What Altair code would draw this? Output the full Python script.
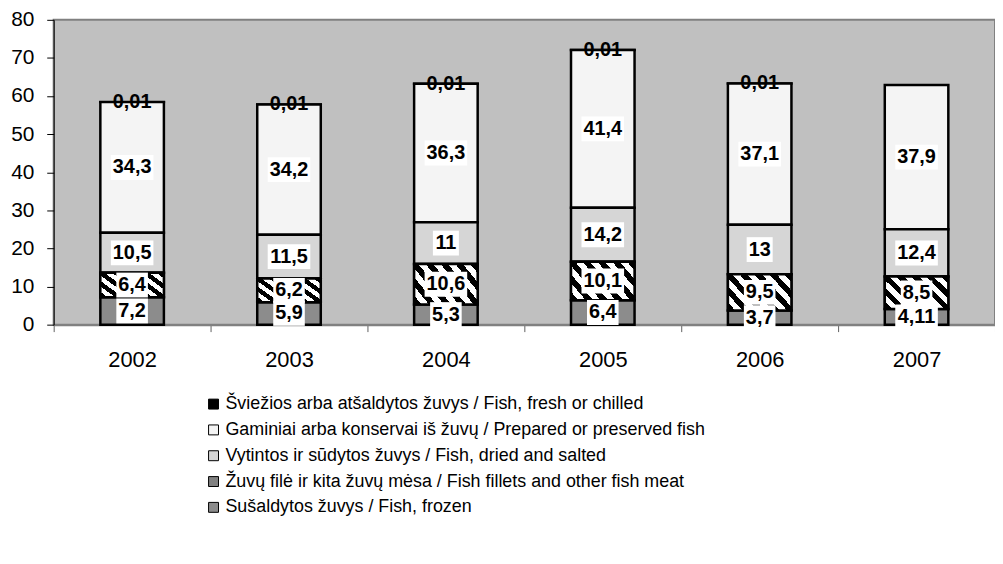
import altair as alt
import pandas as pd

years = ["2002", "2003", "2004", "2005", "2006", "2007"]
categories = [
    "Šviežios arba atšaldytos žuvys / Fish, fresh or chilled",
    "Gaminiai arba konservai iš žuvų / Prepared or preserved fish",
    "Vytintos ir sūdytos žuvys / Fish, dried and salted",
    "Žuvų filė ir kita žuvų mėsa / Fish fillets and other fish meat",
    "Sušaldytos žuvys / Fish, frozen",
]
fresh = [0.01, 0.01, 0.01, 0.01, 0.01, None]
prepared = [34.3, 34.2, 36.3, 41.4, 37.1, 37.9]
dried = [10.5, 11.5, 11, 14.2, 13, 12.4]
fillets = [6.4, 6.2, 10.6, 10.1, 9.5, 8.5]
frozen = [7.2, 5.9, 5.3, 6.4, 3.7, 4.11]
series = [fresh, prepared, dried, fillets, frozen]
colors = ["#000000", "#f4f4f4", "#d6d6d6", "#808080", "#8c8c8c"]

rows = []
for ci, (cat, vals) in enumerate(zip(categories, series)):
    for yr, v in zip(years, vals):
        if v is None:
            continue
        rows.append({"year": yr, "cat": cat, "value": v,
                     "label": str(v).replace(".", ","),
                     "stack_order": len(categories) - 1 - ci})
df = pd.DataFrame(rows)

# diagonal stripe gradient for fillets
n_periods = 6.5
stops = []
k = 0
while k / n_periods <= 1:
    a = k / n_periods
    b = (k + 0.5) / n_periods
    c = (k + 1) / n_periods
    stops.append({"offset": min(a, 1), "color": "#000000"})
    stops.append({"offset": min(b, 1), "color": "#000000"})
    if b <= 1:
        stops.append({"offset": min(b, 1), "color": "#ffffff"})
        stops.append({"offset": min(c, 1), "color": "#ffffff"})
    k += 1
stripes = {"gradient": "linear", "x1": 0, "y1": 1, "x2": 1.197, "y2": 0.378, "stops": stops}

base = alt.Chart(df).transform_stack(
    stack="value", groupby=["year"], as_=["y0", "y1"],
    sort=[alt.SortField("stack_order", order="ascending")]
).transform_calculate(mid="(datum.y0 + datum.y1) / 2")

x_enc = alt.X("year:N", title=None,
              scale=alt.Scale(paddingInner=0, paddingOuter=0),
              axis=alt.Axis(labelAngle=0, tickBand="extent", labelFontSize=22,
                            labelFont="Liberation Sans", labelColor="black",
                            domainColor="#808080", domainWidth=2,
                            tickColor="#606060", tickSize=7, labelPadding=18))
y_scale = alt.Scale(domain=[0, 80], nice=False)
y_axis = alt.Axis(values=list(range(0, 81, 10)), labelFontSize=21,
                  labelFont="Liberation Sans", labelColor="black",
                  domainColor="black", domainWidth=1, tickColor="black",
                  tickSize=7, labelPadding=13, grid=False)

bars = base.mark_bar(size=64, stroke="black", strokeWidth=2.5).encode(
    x=x_enc,
    y=alt.Y("y0:Q", scale=y_scale, axis=y_axis, title=None),
    y2="y1:Q",
    color=alt.Color("cat:N", scale=alt.Scale(domain=categories, range=colors),
                    legend=alt.Legend(title=None, orient="none", legendX=152, legendY=378,
                                      symbolType="square", symbolSize=100,
                                      symbolStrokeColor="black", symbolStrokeWidth=1,
                                      labelFontSize=18, labelFont="Liberation Sans",
                                      labelColor="black", labelLimit=800,
                                      rowPadding=8, padding=0, labelOffset=3)),
)

fillet_bars = base.transform_filter(alt.datum.cat == categories[3]).mark_bar(
    size=64, stroke="black", strokeWidth=2.5, fill=stripes
).encode(x=x_enc, y=alt.Y("y0:Q", scale=y_scale, axis=y_axis, title=None), y2="y1:Q")

boxes = base.transform_filter(alt.datum.cat != categories[0]).transform_calculate(
    nc="indexof(datum.label, ',') >= 0 ? 1 : 0"
).transform_calculate(
    w="(length(datum.label) - datum.nc) * 11.1 + datum.nc * 5.6 + 4"
).transform_calculate(
    r="25 / datum.w"
).transform_calculate(
    shp="'M-1,-' + datum.r + 'L1,-' + datum.r + 'L1,' + datum.r + 'L-1,' + datum.r + 'Z'",
    sz="datum.w * datum.w",
).mark_point(filled=True, fill="white", opacity=1, strokeWidth=0).encode(
    x=x_enc,
    y=alt.Y("mid:Q", scale=y_scale, axis=y_axis, title=None),
    shape=alt.Shape("shp:N", scale=None),
    size=alt.Size("sz:Q", scale=None),
)

texts = base.mark_text(font="Liberation Sans", fontWeight="bold", fontSize=20,
                       color="black").encode(
    x=x_enc,
    y=alt.Y("mid:Q", scale=y_scale, axis=y_axis, title=None),
    text="label:N",
)

chart = alt.layer(bars, fillet_bars, boxes, texts).properties(
    width=948, height=307,
    autosize=alt.AutoSizeParams(type="none"),
    padding={"left": 46, "top": 10, "right": 0, "bottom": 220},
).configure_view(fill="#c0c0c0", stroke="#808080", strokeWidth=2)

chart.save("out.html", embed_options={"renderer": "svg", "actions": False})
